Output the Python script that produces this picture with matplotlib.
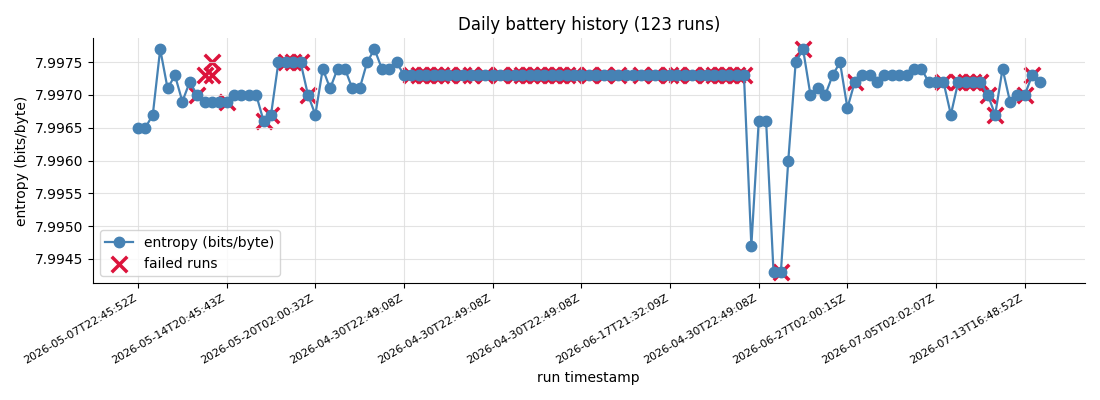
import matplotlib
matplotlib.use("Agg")
import matplotlib.pyplot as plt
from matplotlib.ticker import ScalarFormatter

entropy = (
    [7.9965, 7.9965, 7.9967, 7.9977, 7.9971, 7.9973, 7.9969, 7.9972, 7.9970, 7.9969,
     7.9969, 7.9969, 7.9969, 7.9970, 7.9970, 7.9970, 7.9970, 7.9966, 7.9967, 7.9975,
     7.9975, 7.9975, 7.9975, 7.9970, 7.9967, 7.9974, 7.9971, 7.9974, 7.9974, 7.9971,
     7.9971, 7.9975, 7.9977, 7.9974, 7.9974, 7.9975]
    + [7.9973] * 47
    + [7.9947, 7.9966, 7.9966, 7.9943, 7.9943, 7.9960, 7.9975, 7.9977, 7.9970, 7.9971,
       7.9970, 7.9973, 7.9975, 7.9968, 7.9972, 7.9973, 7.9973, 7.9972, 7.9973, 7.9973,
       7.9973, 7.9973, 7.9974, 7.9974, 7.9972, 7.9972, 7.9972, 7.9967, 7.9972, 7.9972,
       7.9972, 7.9972, 7.9970, 7.9967, 7.9974, 7.9969, 7.9970, 7.9970, 7.9973, 7.9972]
)
run_idx = list(range(len(entropy)))

flat_failed = [37, 38, 39, 40, 41, 42, 44, 45, 47, 49, 51, 52, 53, 54, 55, 56, 57, 58,
               59, 61, 63, 65, 68, 70, 72, 73, 75, 77, 78, 79, 80, 81, 82]
failed_idx = ([8, 9, 10, 10, 12, 17, 18, 20, 21, 22, 23] + flat_failed
              + [87, 90, 97, 109, 111, 112, 113, 114, 115, 116, 120, 121])
failed_val = ([7.9970, 7.9973, 7.9975, 7.9973, 7.9969, 7.9966, 7.9967, 7.9975, 7.9975,
               7.9975, 7.9970] + [7.9973] * len(flat_failed)
              + [7.9943, 7.9977, 7.9972, 7.9972, 7.9972, 7.9972, 7.9972, 7.9972, 7.9970,
                 7.9967, 7.9970, 7.9973])

tick_pos = [0, 12, 24, 36, 48, 60, 72, 84, 96, 108, 120]
tick_labels = [
    "2026-05-07T22:45:52Z", "2026-05-14T20:45:43Z", "2026-05-20T02:00:32Z",
    "2026-04-30T22:49:08Z", "2026-04-30T22:49:08Z", "2026-04-30T22:49:08Z",
    "2026-06-17T21:32:09Z", "2026-04-30T22:49:08Z", "2026-06-27T02:00:15Z",
    "2026-07-05T02:02:07Z", "2026-07-13T16:48:52Z",
]

fig, ax = plt.subplots(figsize=(11, 4), dpi=100)
fig.subplots_adjust(left=0.0845, right=0.986, top=0.905, bottom=0.2925)

ax.plot(run_idx, entropy, color="#4682b4", marker="o", markersize=7.5, linewidth=1.6,
        label="entropy (bits/byte)")
ax.scatter(failed_idx, failed_val, marker="x", s=125, linewidths=2.5, color="#dc143c",
           label="failed runs")

ax.set_xticks(tick_pos)
ax.set_xticklabels(tick_labels, rotation=30, ha="right", fontsize=8)
fmt = ScalarFormatter(useOffset=False)
ax.yaxis.set_major_formatter(fmt)
ax.set_title("Daily battery history (123 runs)", fontsize=12)
ax.set_xlabel("run timestamp")
ax.set_ylabel("entropy (bits/byte)")
ax.grid(True, color="#dddddd", linewidth=0.8, alpha=0.8)
ax.spines["top"].set_visible(False)
ax.spines["right"].set_visible(False)
ax.legend(loc="lower left")

fig.savefig("out.png", dpi=100)
